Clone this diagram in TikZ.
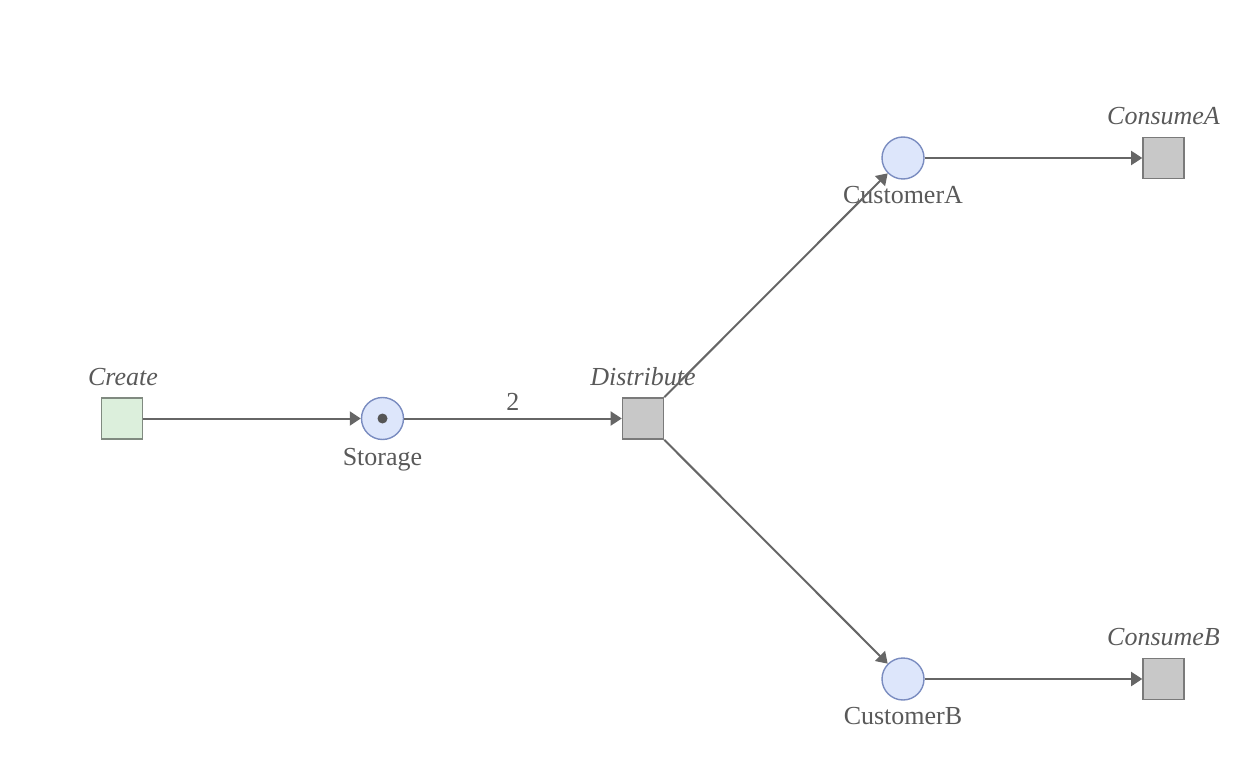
\documentclass[tikz,border=0pt]{standalone}
\usepackage{fontspec}
\setmainfont{Liberation Serif}
\usetikzlibrary{arrows.meta}
\definecolor{linec}{HTML}{666666}
\definecolor{textc}{HTML}{595959}
\definecolor{placefill}{HTML}{DDE6FB}
\definecolor{placeborder}{HTML}{7A8CC0}
\definecolor{transfill}{HTML}{C8C8C8}
\definecolor{transborder}{HTML}{7A7A7A}
\definecolor{startfill}{HTML}{DCEFDC}
\definecolor{startborder}{HTML}{808A80}
\definecolor{tokenc}{HTML}{555555}
\begin{document}
\begin{tikzpicture}[x=1pt,y=-1pt,
  place/.style={circle, draw=placeborder, fill=placefill, line width=1.4pt, minimum size=42pt, inner sep=0pt},
  trans/.style={rectangle, draw=transborder, fill=transfill, line width=1.6pt, minimum size=41pt, inner sep=0pt},
  starttrans/.style={trans, draw=startborder, fill=startfill},
  arc/.style={draw=linec, line width=2pt, -{Triangle[length=11pt,width=14pt]}},
  lbl/.style={text=textc, font=\fontsize{26}{31}\selectfont, anchor=base, inner sep=0pt},
  tlbl/.style={lbl, font=\fontsize{26}{31}\selectfont\itshape},
  tokenstyle/.style={circle, fill=tokenc, inner sep=0pt, minimum size=10pt}
]
\useasboundingbox (0,0) rectangle (1256,778);

% places and transitions
\node[starttrans] (create) at (122,418.5) {};
\node[place] (storage) at (382.5,418.5) {};
\node[tokenstyle] (tok) at (storage) {};
\node[trans] (distribute) at (643,418.5) {};
\node[place] (custA) at (903,158) {};
\node[trans] (consA) at (1163.5,158) {};
\node[place] (custB) at (903,679) {};
\node[trans] (consB) at (1163.5,679) {};

% labels
\node[tlbl] (createL) at (123,385) {Create};
\node[lbl] (storageL) at (382.5,465) {Storage};
\node[tlbl] (distL) at (643,385) {Distribute};
\node[lbl] (custAL) at (903,204) {CustomerA};
\node[tlbl] (consAL) at (1163.5,125) {ConsumeA};
\node[lbl] (custBL) at (903,724) {CustomerB};
\node[tlbl] (consBL) at (1163.5,645) {ConsumeB};

% arcs
\draw[arc] (create) -- (storage);
\draw[arc] (storage) -- node[lbl, pos=0.5, yshift=8pt] (w) {2} (distribute);
\draw[arc] (distribute) -- (custA);
\draw[arc] (distribute) -- (custB);
\draw[arc] (custA) -- (consA);
\draw[arc] (custB) -- (consB);
\end{tikzpicture}
\end{document}
